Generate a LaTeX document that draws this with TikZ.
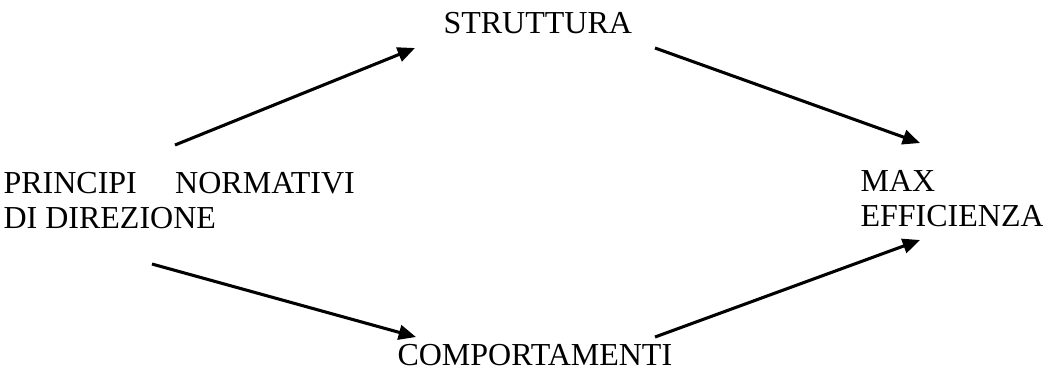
\documentclass[tikz,border=0pt]{standalone}
\usepackage{fontspec}
\setmainfont{Liberation Serif}
\usetikzlibrary{arrows.meta}

\begin{document}
\begin{tikzpicture}[x=0.375pt, y=-0.375pt,
	lbl/.style={inner sep=0pt, anchor=base west, align=left, font=\fontsize{12}{13.1}\selectfont},
	arr/.style={-{Triangle[length=6.5pt, width=5.5pt]}, line width=1.15pt}]
	\useasboundingbox (0,0) rectangle (1043,374);
	% testi (base = ultima riga)
	\node[lbl] (principi) at (3,228) {PRINCIPI\hspace{14.4pt}NORMATIVI\\DI DIREZIONE};
	\node[lbl] (struttura) at (443,33) {STRUTTURA};
	\node[lbl] (comport) at (397,365) {COMPORTAMENTI};
	\node[lbl] (maxeff) at (860,226) {MAX\\EFFICIENZA};
	% estremi delle frecce
	\coordinate (p-su) at (175,145);
	\coordinate (s-sx) at (415,48);
	\coordinate (s-dx) at (655,48);
	\coordinate (m-su) at (920,143);
	\coordinate (p-giu) at (152,264);
	\coordinate (c-sx) at (416,337);
	\coordinate (c-dx) at (655,337);
	\coordinate (m-giu) at (920,240);
	\path[arr]
		(p-su) edge (s-sx)
		(s-dx) edge (m-su)
		(p-giu) edge (c-sx)
		(c-dx) edge (m-giu);
\end{tikzpicture}
\end{document}
